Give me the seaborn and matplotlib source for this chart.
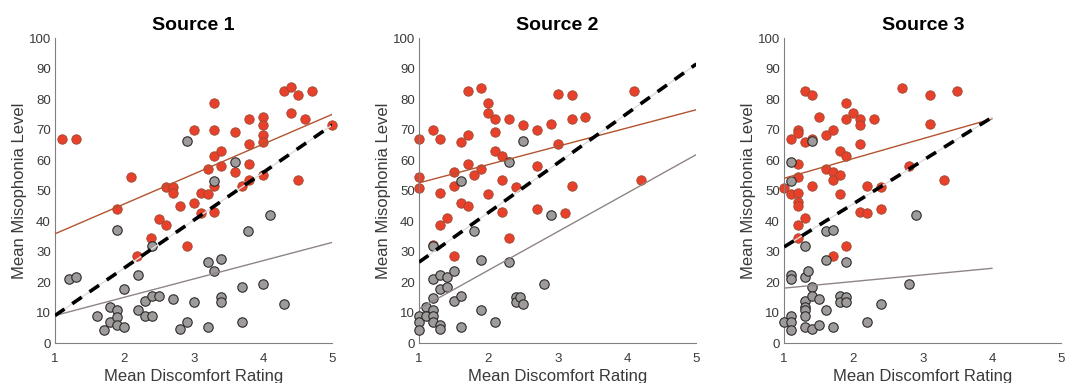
import matplotlib
matplotlib.use("Agg")
import matplotlib.pyplot as plt
import numpy as np
import pandas as pd
import seaborn as sns

titles = ["Source 1", "Source 2", "Source 3"]

# red points (x = discomfort, y = misophonia)
red_x1 = [1.1, 1.3, 1.89, 2.1, 2.19, 2.39, 2.5, 2.6, 2.6, 2.7, 2.7, 2.8, 2.9, 3.0,
          3.0, 3.1, 3.1, 3.2, 3.2, 3.3, 3.3, 3.3, 3.3, 3.3, 3.4, 3.4, 3.6, 3.6,
          3.7, 3.8, 3.8, 3.8, 3.8, 4.0, 4.0, 4.0, 4.0, 4.0, 4.3, 4.4, 4.4, 4.5,
          4.5, 4.6, 4.7, 5.0]
red_y1 = [66.9, 66.9, 43.9, 54.4, 28.6, 34.4, 40.8, 38.6, 51.0, 51.0, 49.2, 44.8,
          31.9, 69.7, 45.9, 49.2, 42.6, 57.0, 49.0, 78.7, 70.0, 61.2, 51.4, 43.0,
          62.8, 58.1, 69.2, 56.0, 51.4, 73.4, 65.4, 58.7, 53.6, 74.1, 71.4, 68.3,
          65.8, 55.2, 82.5, 83.8, 75.4, 81.2, 53.6, 73.4, 82.5, 71.6]
gray_x1 = [1.2, 1.3, 1.6, 1.7, 1.8, 1.8, 1.9, 1.9, 1.9, 1.9, 2.0, 2.0, 2.2, 2.2,
           2.3, 2.3, 2.4, 2.4, 2.4, 2.5, 2.7, 2.8, 2.9, 2.9, 3.0, 3.2, 3.2, 3.3,
           3.3, 3.4, 3.4, 3.4, 3.6, 3.7, 3.7, 3.78, 4.0, 4.1, 4.3]
gray_y1 = [21.1, 21.6, 8.7, 4.4, 11.8, 6.9, 37.2, 10.7, 8.5, 6.0, 17.7, 5.2, 22.2,
           10.9, 13.7, 8.7, 31.7, 15.3, 8.7, 15.3, 14.5, 4.7, 66.1, 6.9, 13.4,
           26.4, 5.2, 53.0, 23.5, 27.5, 15.0, 13.4, 59.3, 18.4, 6.9, 36.8, 19.5,
           42.1, 12.8]

red_x2 = [1.0, 1.0, 1.0, 1.2, 1.2, 1.3, 1.3, 1.3, 1.4, 1.5, 1.5, 1.5, 1.6, 1.6,
          1.7, 1.7, 1.7, 1.7, 1.8, 1.9, 1.9, 2.0, 2.0, 2.0, 2.1, 2.1, 2.1, 2.2,
          2.2, 2.2, 2.3, 2.3, 2.4, 2.5, 2.7, 2.7, 2.7, 2.9, 3.0, 3.0, 3.1, 3.2,
          3.2, 3.2, 3.4, 4.1, 4.2]
red_y2 = [66.9, 54.4, 50.8, 69.7, 32.2, 66.9, 49.2, 38.8, 41.0, 56.0, 51.6, 28.6,
          65.8, 45.9, 82.7, 68.3, 58.7, 44.8, 55.2, 83.6, 57.0, 78.7, 75.4, 49.0,
          73.4, 69.2, 62.8, 61.2, 53.6, 43.0, 73.4, 34.4, 51.0, 71.4, 70.0, 58.1,
          43.9, 71.8, 81.6, 65.2, 42.5, 81.2, 73.4, 51.4, 74.1, 82.5, 53.6]
gray_x2 = [1.0, 1.0, 1.0, 1.1, 1.1, 1.2, 1.2, 1.2, 1.2, 1.2, 1.2, 1.3, 1.3, 1.3,
           1.3, 1.4, 1.4, 1.5, 1.5, 1.6, 1.6, 1.6, 1.8, 1.9, 1.9, 2.1, 2.3, 2.3,
           2.4, 2.4, 2.45, 2.5, 2.5, 2.8, 2.9]
gray_y2 = [9.0, 6.9, 4.4, 11.8, 8.7, 31.7, 21.1, 14.8, 10.9, 9.0, 6.9, 22.2, 17.7,
           6.0, 4.7, 21.6, 18.4, 23.5, 13.7, 53.0, 15.3, 5.2, 36.8, 27.3, 10.7,
           6.9, 59.3, 26.4, 15.0, 13.4, 15.0, 12.8, 66.1, 19.5, 42.1]

red_x3 = [1.0, 1.1, 1.1, 1.2, 1.2, 1.2, 1.2, 1.2, 1.2, 1.2, 1.2, 1.2, 1.3, 1.3,
          1.3, 1.4, 1.4, 1.4, 1.5, 1.6, 1.6, 1.7, 1.7, 1.7, 1.7, 1.8, 1.8, 1.8,
          1.9, 1.9, 1.9, 1.9, 2.0, 2.1, 2.1, 2.1, 2.1, 2.2, 2.2, 2.3, 2.4, 2.4,
          2.7, 2.8, 3.1, 3.1, 3.3, 3.5]
red_y3 = [50.8, 66.9, 49.0, 69.7, 69.0, 58.7, 54.3, 49.2, 46.2, 44.8, 38.8, 34.4,
          82.7, 65.8, 41.0, 81.4, 66.9, 51.6, 74.1, 68.3, 57.0, 70.0, 56.0, 53.6,
          28.6, 62.8, 55.2, 49.0, 78.7, 73.4, 61.2, 31.9, 75.4, 73.4, 71.4, 65.4,
          43.0, 51.4, 42.5, 73.4, 51.0, 43.9, 83.6, 58.1, 81.2, 71.8, 53.6, 82.5]
gray_x3 = [1.0, 1.1, 1.1, 1.1, 1.1, 1.1, 1.1, 1.1, 1.3, 1.3, 1.3, 1.3, 1.3, 1.3,
           1.3, 1.35, 1.4, 1.4, 1.4, 1.4, 1.5, 1.5, 1.6, 1.6, 1.6, 1.7, 1.7, 1.8,
           1.8, 1.9, 1.9, 1.9, 2.2, 2.4, 2.8, 2.9]
gray_y3 = [6.9, 59.3, 53.0, 22.2, 21.1, 9.0, 6.9, 4.4, 31.7, 21.6, 13.7, 11.8,
           10.7, 9.0, 5.2, 23.5, 66.1, 18.4, 15.3, 4.7, 14.5, 6.0, 36.8, 27.3,
           10.7, 37.2, 5.2, 15.3, 13.4, 26.4, 15.0, 13.4, 6.9, 12.8, 19.5, 42.1]

# fitted / reference lines: endpoints
line_x = [[1, 5], [1, 5], [1, 4]]
red_fit = [[35.8, 75.0], [52.5, 76.5], [54.0, 73.5]]
gray_fit = [[9.0, 33.0], [11.2, 61.8], [18.0, 24.5]]
dash_fit = [[9.0, 71.5], [26.5, 91.5], [31.5, 74.0]]

reds = [(red_x1, red_y1), (red_x2, red_y2), (red_x3, red_y3)]
grays = [(gray_x1, gray_y1), (gray_x2, gray_y2), (gray_x3, gray_y3)]

RED = "#e8402a"
GRAY = "#a09b9b"

sns.set_style("white")
plt.rcParams["font.family"] = ["Liberation Sans", "DejaVu Sans"]

fig = plt.figure(figsize=(10.65, 3.83), dpi=100)
lefts = [0.0516, 0.3934, 0.7362]

for i in range(3):
    ax = fig.add_axes([lefts[i], 0.1044, 0.2605, 0.7963])
    rx, ry = reds[i]
    gx, gy = grays[i]
    sns.scatterplot(x=rx, y=ry, ax=ax, color=RED, s=46, edgecolor="#9a4a30",
                    linewidth=0.6, zorder=2, clip_on=False)
    sns.scatterplot(x=gx, y=gy, ax=ax, color=GRAY, s=46, edgecolor="#2b2b2b",
                    linewidth=0.8, zorder=3, clip_on=False)
    xs = line_x[i]
    sns.lineplot(x=xs, y=red_fit[i], ax=ax, color="#b4532f", linewidth=1.0,
                 zorder=4)
    sns.lineplot(x=xs, y=gray_fit[i], ax=ax, color="#8f8585", linewidth=1.0,
                 zorder=4)
    sns.lineplot(x=xs, y=dash_fit[i], ax=ax, color="#dddddd", linewidth=1.0,
                 zorder=5)
    sns.lineplot(x=xs, y=dash_fit[i], ax=ax, color="black", linewidth=2.6,
                 linestyle=(0, (3.2, 2.6)), zorder=6)

    ax.set_xlim(1, 5)
    ax.set_ylim(0, 100)
    ax.set_xticks([1, 2, 3, 4, 5])
    ax.set_yticks(range(0, 101, 10))
    ax.tick_params(direction="in", length=3, width=0.8, colors="#808080",
                   labelcolor="#3a3a3a", labelsize=9.5, pad=3)
    ax.tick_params(axis="x", pad=7)
    for side in ["top", "right"]:
        ax.spines[side].set_visible(False)
    for side in ["left", "bottom"]:
        ax.spines[side].set_color("#808080")
        ax.spines[side].set_linewidth(0.8)
    ax.set_title(titles[i], fontsize=14, fontweight="bold", color="black",
                 pad=6)
    ax.set_xlabel("Mean Discomfort Rating", fontsize=12, color="#3a3a3a",
                  labelpad=3)
    ax.set_ylabel("Mean Misophonia Level", fontsize=12, color="#3a3a3a",
                  labelpad=1)

fig.savefig("out.png", dpi=100)
